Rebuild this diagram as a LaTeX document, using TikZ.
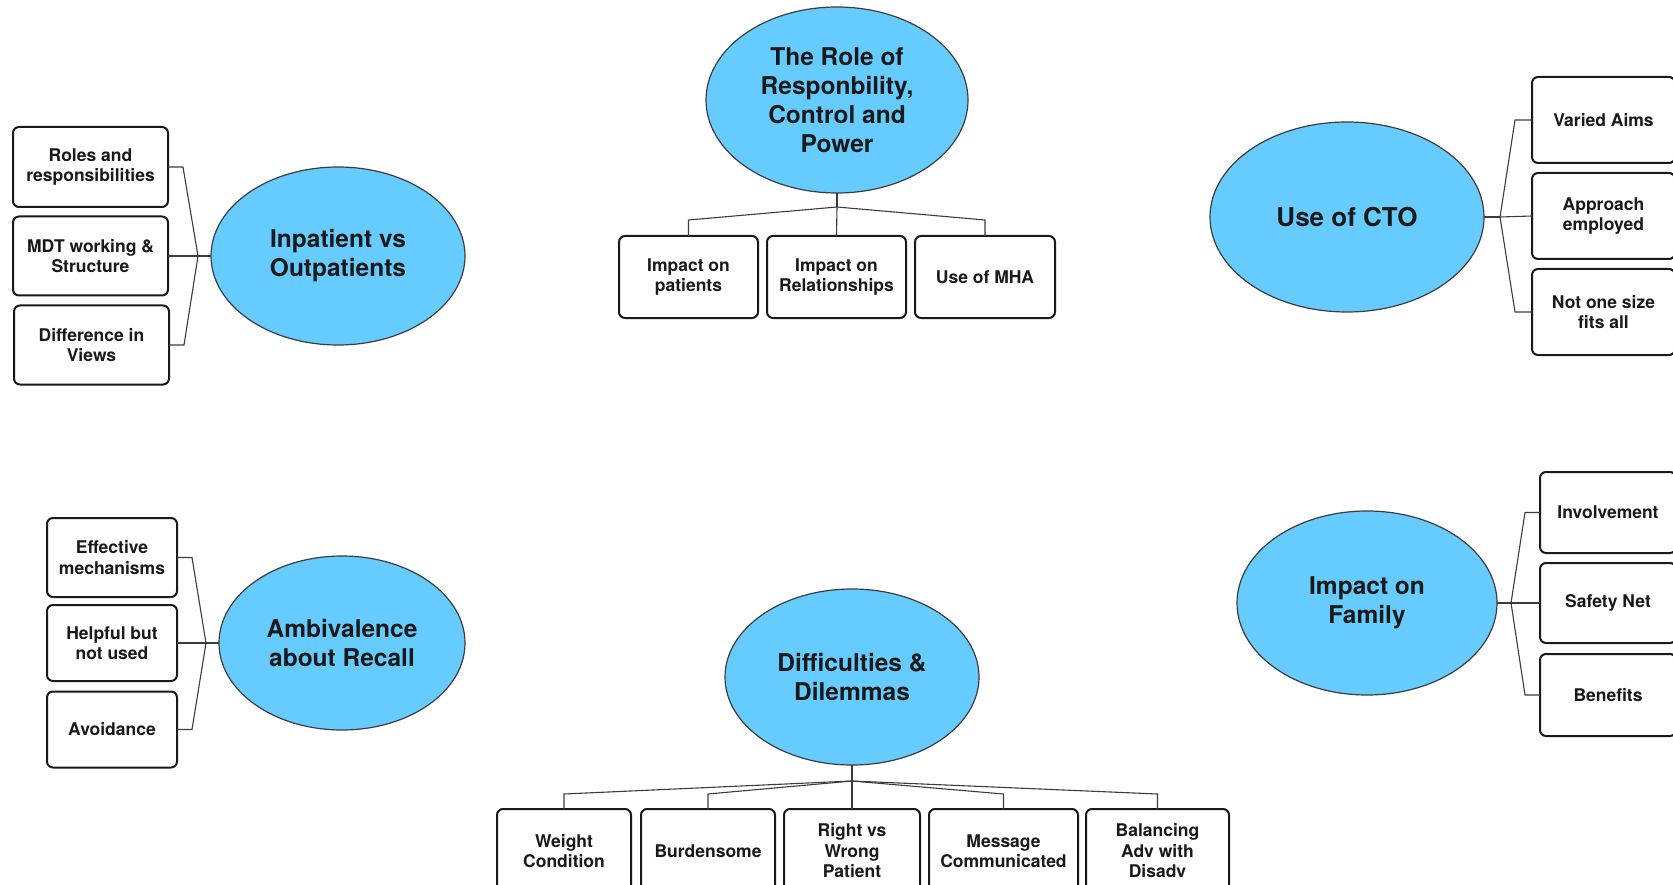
\documentclass[tikz,border=0pt]{standalone}
\usepackage{fontspec}
\setmainfont{TeX Gyre Heros}
\usetikzlibrary{shapes.geometric}
\definecolor{bubble}{RGB}{102,204,255}
\definecolor{ink}{RGB}{25,25,25}
\begin{document}
\begin{tikzpicture}[x=1pt,y=-1pt,
  theme/.style={ellipse, draw=ink!85, line width=1.2pt, fill=bubble, inner sep=0pt, outer sep=0pt,
    align=center, font=\fontsize{24.5}{29}\selectfont\bfseries, text=ink},
  sub/.style={rectangle, rounded corners=6pt, draw=ink, line width=2pt, fill=white, inner sep=0pt,
    outer sep=0pt, align=center, font=\fontsize{17.5}{20.5}\selectfont\bfseries, text=ink},
  link/.style={draw=ink!85, line width=1.1pt},
  stem/.style={draw=ink!85, line width=2pt}]
\fill[white] (0,0) rectangle (1673,885);
\useasboundingbox (0,0) rectangle (1673,885);

% ---------- Inpatient vs Outpatients ----------
\node[theme, minimum width=254pt, minimum height=178pt] (inp) at (338,256) {Inpatient vs\\Outpatients};
\node[sub, minimum width=155pt, minimum height=80pt] (roles) at (90.5,167) {Roles and\\responsibilities};
\node[sub, minimum width=155pt, minimum height=79pt] (mdt) at (90.5,256) {MDT working \&\\Structure};
\node[sub, minimum width=155pt, minimum height=79pt] (views) at (91.5,345) {Difference in\\Views};
\coordinate (jinp) at ([xshift=-13pt]inp.west);
\draw[stem] (jinp) -- (inp.west);
\draw[link] (roles.east) -- ++(15,0) -- (jinp);
\draw[link] (mdt.east) -- (jinp);
\draw[link] (views.east) -- ++(15,0) -- (jinp);

% ---------- The Role of Responsibility ----------
\node[theme, minimum width=262pt, minimum height=186pt] (role) at (837,100) {The Role of\\Responbility,\\Control and\\Power};
\node[sub, minimum width=139pt, minimum height=82pt] (ipat) at (688.5,277) {Impact on\\patients};
\node[sub, minimum width=139pt, minimum height=82pt] (irel) at (836.5,277) {Impact on\\Relationships};
\node[sub, minimum width=140pt, minimum height=82pt] (mha) at (985,277) {Use of MHA};
\coordinate (jrole) at ([yshift=-14pt]role.south);
\draw[stem] (role.south) -- (jrole);
\draw[link] (jrole) -- ([yshift=16pt]ipat.north) -- (ipat.north);
\draw[link] (jrole) -- (irel.north);
\draw[link] (jrole) -- ([yshift=16pt]mha.north) -- (mha.north);

% ---------- Use of CTO ----------
\node[theme, minimum width=274pt, minimum height=190pt, font=\fontsize{26}{30}\selectfont\bfseries] (cto) at (1347,217) {Use of CTO};
\node[sub, minimum width=143pt, minimum height=86pt] (aims) at (1603.5,120) {Varied Aims};
\node[sub, minimum width=143pt, minimum height=86pt] (appr) at (1603.5,216) {Approach\\employed};
\node[sub, minimum width=143pt, minimum height=86pt] (size) at (1603.5,312) {Not one size\\fits all};
\coordinate (jcto) at ([xshift=16pt]cto.east);
\draw[stem] (cto.east) -- (jcto);
\draw[link] (jcto) -- ([xshift=-17pt]aims.west) -- (aims.west);
\draw[link] (jcto) -- (appr.west);
\draw[link] (jcto) -- ([xshift=-17pt]size.west) -- (size.west);

% ---------- Ambivalence about Recall ----------
\node[theme, minimum width=246pt, minimum height=174pt] (amb) at (342,643) {Ambivalence\\about Recall};
\node[sub, minimum width=130pt, minimum height=79pt] (eff) at (112,557.5) {Effective\\mechanisms};
\node[sub, minimum width=130pt, minimum height=76pt] (help) at (112,643) {Helpful but\\not used};
\node[sub, minimum width=130pt, minimum height=76pt] (avoid) at (112,729.5) {Avoidance};
\coordinate (jamb) at ([xshift=-13pt]amb.west);
\draw[stem] (jamb) -- (amb.west);
\draw[link] (eff.east) -- ++(15,0) -- (jamb);
\draw[link] (help.east) -- (jamb);
\draw[link] (avoid.east) -- ++(15,0) -- (jamb);

% ---------- Impact on Family ----------
\node[theme, minimum width=260pt, minimum height=184pt] (fam) at (1367,603) {Impact on\\Family};
\node[sub, minimum width=136pt, minimum height=81pt] (invl) at (1608,512.5) {Involvement};
\node[sub, minimum width=136pt, minimum height=80pt] (safe) at (1608,603) {Safety Net};
\node[sub, minimum width=136pt, minimum height=82pt] (bene) at (1608,695) {Benefits};
\coordinate (jfam) at ([xshift=14pt]fam.east);
\draw[stem] (fam.east) -- (jfam);
\draw[link] (jfam) -- ([xshift=-15pt]invl.west) -- (invl.west);
\draw[link] (jfam) -- (safe.west);
\draw[link] (jfam) -- ([xshift=-15pt]bene.west) -- (bene.west);

% ---------- Difficulties & Dilemmas ----------
\node[theme, minimum width=254pt, minimum height=176pt] (dd) at (852,677) {Difficulties \&\\Dilemmas};
\node[sub, minimum width=134pt, minimum height=84pt] (weight) at (564,851) {Weight\\Condition};
\node[sub, minimum width=134pt, minimum height=84pt] (burd) at (708,851) {Burdensome};
\node[sub, minimum width=136pt, minimum height=84pt] (right) at (852,851) {Right vs\\Wrong\\Patient};
\node[sub, minimum width=149pt, minimum height=84pt] (msg) at (1003.5,851) {Message\\Communicated};
\node[sub, minimum width=143pt, minimum height=84pt] (bal) at (1157.5,851) {Balancing\\Adv with\\Disadv};
\coordinate (jdd) at ([yshift=-16pt]dd.south);
\draw[stem] (dd.south) -- (jdd);
\draw[link] (jdd) -- ([yshift=15pt]weight.north) -- (weight.north);
\draw[link] (jdd) -- ([yshift=15pt]burd.north) -- (burd.north);
\draw[link] (jdd) -- (right.north);
\draw[link] (jdd) -- ([yshift=15pt]msg.north) -- (msg.north);
\draw[link] (jdd) -- ([yshift=15pt]bal.north) -- (bal.north);
\end{tikzpicture}
\end{document}
